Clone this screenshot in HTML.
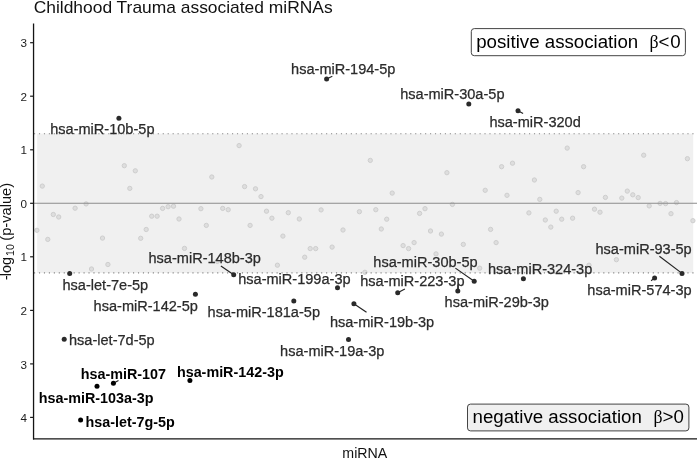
<!DOCTYPE html>
<html><head><meta charset="utf-8"><title>Childhood Trauma associated miRNAs</title>
<style>
html,body{margin:0;padding:0;background:#fff;}
body{width:697px;height:458px;overflow:hidden;font-family:"Liberation Sans",sans-serif;}
svg{display:block;will-change:transform;}
text{font-family:"Liberation Sans",sans-serif;}
.lb{font-size:14.55px;fill:#2b2b2b;stroke:#2b2b2b;stroke-width:0.25px;}
.lbb{font-size:14.35px;fill:#000;font-weight:bold;}
.tk{font-size:11.7px;fill:#1c1c1c;text-anchor:end;}
.ser{font-family:"Liberation Serif",serif;}
</style></head><body>
<svg width="697" height="458" viewBox="0 0 697 458">
<rect width="697" height="458" fill="#fff"/>
<rect x="37.16" y="133.66" width="656.04" height="139.29" fill="#f0f0f0"/>
<g fill="#dedede" stroke="#cecece" stroke-width="1">
<circle cx="36.9" cy="230.3" r="2.15"/><circle cx="42.3" cy="186.1" r="2.15"/><circle cx="47.8" cy="239.4" r="2.15"/><circle cx="53.3" cy="214.5" r="2.15"/><circle cx="58.7" cy="217.0" r="2.15"/><circle cx="75.1" cy="208.2" r="2.15"/><circle cx="86.1" cy="203.9" r="2.15"/><circle cx="91.5" cy="269.0" r="2.15"/><circle cx="102.5" cy="238.1" r="2.15"/><circle cx="107.9" cy="264.5" r="2.15"/><circle cx="124.3" cy="165.7" r="2.15"/><circle cx="129.8" cy="188.4" r="2.15"/><circle cx="135.3" cy="170.8" r="2.15"/><circle cx="140.7" cy="238.3" r="2.15"/><circle cx="146.2" cy="229.5" r="2.15"/><circle cx="151.7" cy="216.2" r="2.15"/><circle cx="157.1" cy="216.2" r="2.15"/><circle cx="162.6" cy="208.4" r="2.15"/><circle cx="168.1" cy="206.7" r="2.15"/><circle cx="173.5" cy="206.2" r="2.15"/><circle cx="179.0" cy="219.0" r="2.15"/><circle cx="184.5" cy="248.4" r="2.15"/><circle cx="200.9" cy="208.7" r="2.15"/><circle cx="206.3" cy="225.4" r="2.15"/><circle cx="211.8" cy="177.0" r="2.15"/><circle cx="217.3" cy="261.4" r="2.15"/><circle cx="222.7" cy="208.4" r="2.15"/><circle cx="228.2" cy="209.7" r="2.15"/><circle cx="239.1" cy="145.6" r="2.15"/><circle cx="244.6" cy="186.6" r="2.15"/><circle cx="250.1" cy="225.4" r="2.15"/><circle cx="255.5" cy="188.8" r="2.15"/><circle cx="261.0" cy="196.6" r="2.15"/><circle cx="266.5" cy="211.2" r="2.15"/><circle cx="271.9" cy="218.2" r="2.15"/><circle cx="277.4" cy="265.2" r="2.15"/><circle cx="282.9" cy="236.1" r="2.15"/><circle cx="288.3" cy="212.7" r="2.15"/><circle cx="299.3" cy="219.0" r="2.15"/><circle cx="304.7" cy="257.2" r="2.15"/><circle cx="310.2" cy="248.6" r="2.15"/><circle cx="315.7" cy="248.6" r="2.15"/><circle cx="321.1" cy="209.9" r="2.15"/><circle cx="332.1" cy="247.1" r="2.15"/><circle cx="343.0" cy="230.0" r="2.15"/><circle cx="359.4" cy="211.7" r="2.15"/><circle cx="364.9" cy="272.3" r="2.15"/><circle cx="370.3" cy="160.4" r="2.15"/><circle cx="375.8" cy="209.7" r="2.15"/><circle cx="381.3" cy="229.0" r="2.15"/><circle cx="386.7" cy="219.2" r="2.15"/><circle cx="392.2" cy="193.1" r="2.15"/><circle cx="403.1" cy="245.6" r="2.15"/><circle cx="408.6" cy="248.6" r="2.15"/><circle cx="414.1" cy="242.6" r="2.15"/><circle cx="419.6" cy="213.4" r="2.15"/><circle cx="425.0" cy="208.7" r="2.15"/><circle cx="430.5" cy="231.0" r="2.15"/><circle cx="436.0" cy="253.9" r="2.15"/><circle cx="441.4" cy="234.1" r="2.15"/><circle cx="446.9" cy="172.7" r="2.15"/><circle cx="452.4" cy="204.4" r="2.15"/><circle cx="463.3" cy="244.4" r="2.15"/><circle cx="479.7" cy="268.2" r="2.15"/><circle cx="485.2" cy="190.3" r="2.15"/><circle cx="490.6" cy="229.4" r="2.15"/><circle cx="496.1" cy="242.6" r="2.15"/><circle cx="501.6" cy="166.7" r="2.15"/><circle cx="507.0" cy="195.3" r="2.15"/><circle cx="512.5" cy="163.2" r="2.15"/><circle cx="528.9" cy="212.9" r="2.15"/><circle cx="534.4" cy="180.0" r="2.15"/><circle cx="539.8" cy="199.4" r="2.15"/><circle cx="545.3" cy="220.0" r="2.15"/><circle cx="550.8" cy="227.1" r="2.15"/><circle cx="556.2" cy="211.2" r="2.15"/><circle cx="561.7" cy="219.2" r="2.15"/><circle cx="567.2" cy="148.1" r="2.15"/><circle cx="572.6" cy="218.2" r="2.15"/><circle cx="578.1" cy="192.6" r="2.15"/><circle cx="583.6" cy="166.7" r="2.15"/><circle cx="589.0" cy="265.2" r="2.15"/><circle cx="594.5" cy="209.2" r="2.15"/><circle cx="600.0" cy="212.2" r="2.15"/><circle cx="605.4" cy="197.4" r="2.15"/><circle cx="616.4" cy="259.7" r="2.15"/><circle cx="621.8" cy="198.1" r="2.15"/><circle cx="627.3" cy="191.1" r="2.15"/><circle cx="632.8" cy="194.8" r="2.15"/><circle cx="638.2" cy="197.6" r="2.15"/><circle cx="643.7" cy="155.2" r="2.15"/><circle cx="649.2" cy="205.9" r="2.15"/><circle cx="660.1" cy="203.4" r="2.15"/><circle cx="665.6" cy="203.6" r="2.15"/><circle cx="671.0" cy="213.7" r="2.15"/><circle cx="676.5" cy="202.6" r="2.15"/><circle cx="687.4" cy="158.7" r="2.15"/><circle cx="692.9" cy="220.7" r="2.15"/>
</g>
<line x1="33.5" x2="697" y1="203.3" y2="203.3" stroke="#8c8c8c" stroke-width="1.1"/>
<line x1="34" x2="697" y1="133.7" y2="133.7" stroke="#868686" stroke-width="1.1" stroke-dasharray="1.15 3.8"/>
<line x1="34" x2="697" y1="272.9" y2="272.9" stroke="#868686" stroke-width="1.1" stroke-dasharray="1.15 3.8"/>
<g stroke="#222" stroke-width="1.15" stroke-linecap="butt">
<line x1="220.9" y1="266.0" x2="233.7" y2="274.8"/><line x1="455.4" y1="268.1" x2="474.2" y2="281.3"/><line x1="458.0" y1="284.5" x2="457.8" y2="291.0"/><line x1="404.9" y1="289.1" x2="397.7" y2="292.8"/><line x1="366.5" y1="312.3" x2="353.9" y2="303.7"/><line x1="659.4" y1="256.2" x2="682.0" y2="273.4"/><line x1="651.1" y1="280.7" x2="654.6" y2="277.9"/><line x1="332.3" y1="76.2" x2="326.6" y2="78.9"/><line x1="523.1" y1="113.6" x2="518.0" y2="110.7"/><line x1="118.5" y1="380.5" x2="113.4" y2="383.2"/>
</g>
<circle cx="64.2" cy="339.3" r="2.5" fill="#2a2a2a"/><circle cx="69.7" cy="273.5" r="2.5" fill="#2a2a2a"/><circle cx="80.6" cy="419.9" r="2.5" fill="#000"/><circle cx="97.0" cy="386.2" r="2.5" fill="#000"/><circle cx="113.4" cy="383.2" r="2.5" fill="#000"/><circle cx="118.9" cy="118.3" r="2.5" fill="#2a2a2a"/><circle cx="189.9" cy="380.5" r="2.5" fill="#000"/><circle cx="195.4" cy="294.3" r="2.5" fill="#2a2a2a"/><circle cx="233.7" cy="274.8" r="2.5" fill="#2a2a2a"/><circle cx="293.8" cy="300.9" r="2.5" fill="#2a2a2a"/><circle cx="326.6" cy="78.9" r="2.5" fill="#2a2a2a"/><circle cx="337.5" cy="287.7" r="2.5" fill="#2a2a2a"/><circle cx="348.5" cy="339.6" r="2.5" fill="#2a2a2a"/><circle cx="353.9" cy="303.7" r="2.5" fill="#2a2a2a"/><circle cx="397.7" cy="292.8" r="2.5" fill="#2a2a2a"/><circle cx="457.8" cy="291.0" r="2.5" fill="#2a2a2a"/><circle cx="468.8" cy="103.9" r="2.5" fill="#2a2a2a"/><circle cx="474.2" cy="281.3" r="2.5" fill="#2a2a2a"/><circle cx="518.0" cy="110.7" r="2.5" fill="#2a2a2a"/><circle cx="523.4" cy="278.8" r="2.5" fill="#2a2a2a"/><circle cx="654.6" cy="277.9" r="2.5" fill="#2a2a2a"/><circle cx="682.0" cy="273.4" r="2.5" fill="#2a2a2a"/>
<text class="lb" x="50.2" y="133.7">hsa-miR-10b-5p</text>
<text class="lb" x="291.1" y="74.3">hsa-miR-194-5p</text>
<text class="lb" x="400.2" y="99.3">hsa-miR-30a-5p</text>
<text class="lb" x="489.4" y="126.7">hsa-miR-320d</text>
<text class="lb" x="62.5" y="289.6">hsa-let-7e-5p</text>
<text class="lb" x="148.5" y="262.9">hsa-miR-148b-3p</text>
<text class="lb" x="238.2" y="283.7">hsa-miR-199a-3p</text>
<text class="lb" x="93.6" y="310.5">hsa-miR-142-5p</text>
<text class="lb" x="207.6" y="317.1">hsa-miR-181a-5p</text>
<text class="lb" x="329.9" y="326.8">hsa-miR-19b-3p</text>
<text class="lb" x="280.1" y="356.1">hsa-miR-19a-3p</text>
<text class="lb" x="373.3" y="266.7">hsa-miR-30b-5p</text>
<text class="lb" x="360.2" y="286.4">hsa-miR-223-3p</text>
<text class="lb" x="444.6" y="307.0">hsa-miR-29b-3p</text>
<text class="lb" x="488.0" y="273.7">hsa-miR-324-3p</text>
<text class="lb" x="595.5" y="254.0">hsa-miR-93-5p</text>
<text class="lb" x="587.3" y="294.9">hsa-miR-574-3p</text>
<text class="lb" x="69.0" y="344.6">hsa-let-7d-5p</text>
<text class="lbb" x="80.7" y="378.8">hsa-miR-107</text>
<text class="lbb" x="38.7" y="402.6">hsa-miR-103a-3p</text>
<text class="lbb" x="85.6" y="426.9">hsa-let-7g-5p</text>
<text class="lbb" x="176.9" y="376.7">hsa-miR-142-3p</text>
<line x1="33.55" x2="33.55" y1="23.5" y2="439.5" stroke="#141414" stroke-width="1.3"/>
<line x1="33" x2="697" y1="438.95" y2="438.95" stroke="#141414" stroke-width="1.3"/>
<line x1="30.1" x2="33.5" y1="42.7" y2="42.7" stroke="#1a1a1a" stroke-width="1.2"/><text class="tk" x="26.9" y="47.3">3</text>
<line x1="30.1" x2="33.5" y1="96.2" y2="96.2" stroke="#1a1a1a" stroke-width="1.2"/><text class="tk" x="26.9" y="100.8">2</text>
<line x1="30.1" x2="33.5" y1="149.8" y2="149.8" stroke="#1a1a1a" stroke-width="1.2"/><text class="tk" x="26.9" y="154.4">1</text>
<line x1="30.1" x2="33.5" y1="203.3" y2="203.3" stroke="#1a1a1a" stroke-width="1.2"/><text class="tk" x="26.9" y="207.9">0</text>
<line x1="30.1" x2="33.5" y1="256.8" y2="256.8" stroke="#1a1a1a" stroke-width="1.2"/><text class="tk" x="26.9" y="261.4">1</text>
<line x1="30.1" x2="33.5" y1="310.4" y2="310.4" stroke="#1a1a1a" stroke-width="1.2"/><text class="tk" x="26.9" y="315.0">2</text>
<line x1="30.1" x2="33.5" y1="363.9" y2="363.9" stroke="#1a1a1a" stroke-width="1.2"/><text class="tk" x="26.9" y="368.5">3</text>
<line x1="30.1" x2="33.5" y1="417.4" y2="417.4" stroke="#1a1a1a" stroke-width="1.2"/><text class="tk" x="26.9" y="422.0">4</text>
<text x="33.7" y="13.2" font-size="17.42" fill="#111">Childhood Trauma associated miRNAs</text>
<text x="364.8" y="457.7" font-size="14.2" fill="#111" text-anchor="middle">miRNA</text>
<text transform="translate(11.2,280.2) rotate(-90)" font-size="14.4" fill="#111"><tspan x="0">-</tspan><tspan x="3.95">log</tspan><tspan font-size="10.6" x="24.3" dy="3.1">10</tspan><tspan font-size="14.65" x="39.5" dy="-3.1">(p-value)</tspan></text>
<rect x="471.3" y="28.6" width="214.1" height="27.1" rx="3" ry="3" fill="#fff" stroke="#444" stroke-width="1"/>
<text x="476.2" y="47.8" font-size="18.7" fill="#000">positive association<tspan class="ser" font-size="17.8" x="649.5">β</tspan><tspan x="658.5">&lt;</tspan><tspan x="670.3">0</tspan></text>
<rect x="467.5" y="404.1" width="221.4" height="26.8" rx="3" ry="3" fill="#f0f0f0" stroke="#444" stroke-width="1"/>
<text x="472.5" y="422.5" font-size="18.7" fill="#000">negative association<tspan class="ser" font-size="17.8" x="653.5">β</tspan><tspan x="662.6">&gt;</tspan><tspan x="673.6">0</tspan></text>
</svg>
</body></html>
